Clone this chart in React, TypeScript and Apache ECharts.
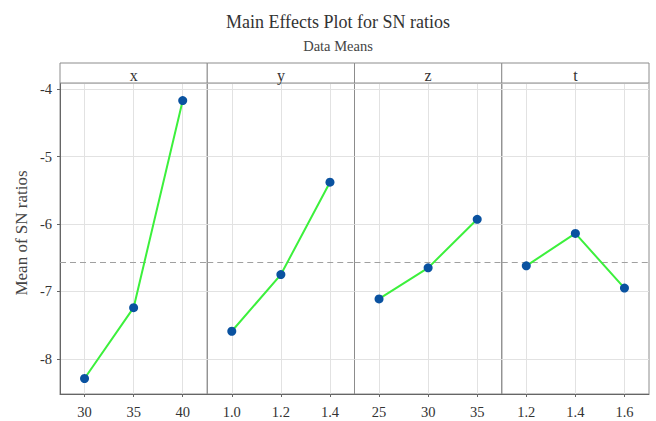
import React, { useEffect, useRef } from "react";
import * as echarts from "echarts";

const titleText = "Main Effects Plot for SN ratios";
const subtitleText = "Data Means";
const yAxisName = "Mean of SN ratios";
const factorNames = ["x", "y", "z", "t"];
const xLevels = ["30", "35", "40"];
const yLevels = ["1.0", "1.2", "1.4"];
const zLevels = ["25", "30", "35"];
const tLevels = ["1.2", "1.4", "1.6"];
const xMeans = [-8.29, -7.24, -4.17];
const yMeans = [-7.59, -6.75, -5.38];
const zMeans = [-7.11, -6.65, -5.93];
const tMeans = [-6.62, -6.14, -6.95];
const grandMean = -6.57;
const yMin = -8.52;
const yMax = -3.91;

const FONT = "'Liberation Serif', 'Times New Roman', serif";

export default function App() {
  const ref = useRef<HTMLDivElement>(null);
  useEffect(() => {
    document.body.style.margin = "0";
    if (!ref.current) return;
    const chart = echarts.init(ref.current, undefined, { renderer: "svg" });
    const levels = [xLevels, yLevels, zLevels, tLevels];
    const means = [xMeans, yMeans, zMeans, tMeans];
    const plotLeft = 60;
    const plotRight = 649;
    const plotTop = 83;
    const plotBottom = 394;
    const stripTop = 63;
    const pw = (plotRight - plotLeft) / 4;

    const grids: any[] = [];
    const xAxes: any[] = [];
    const yAxes: any[] = [];
    const series: any[] = [];
    const graphics: any[] = [];

    for (let i = 0; i < 4; i++) {
      const left = plotLeft + i * pw;
      grids.push({
        left,
        width: pw,
        top: plotTop,
        height: plotBottom - plotTop,
        show: true,
        borderColor: "#8c8c8c",
        borderWidth: 1,
        backgroundColor: "transparent",
      });
      xAxes.push({
        type: "category",
        gridIndex: i,
        data: levels[i],
        boundaryGap: true,
        axisLine: { show: true, lineStyle: { color: "#666", width: 1 } },
        axisTick: { show: true, alignWithLabel: true, length: 3, lineStyle: { color: "#666" } },
        axisLabel: { color: "#333", fontFamily: FONT, fontSize: 14.5, margin: 10 },
        splitLine: { show: true, alignWithLabel: true, lineStyle: { color: "#e2e2e2", width: 1 } },
      });
      yAxes.push({
        type: "value",
        gridIndex: i,
        min: yMin,
        max: yMax,
        splitNumber: 5,
        axisLine: { show: i === 0, lineStyle: { color: "#666", width: 1 } },
        axisTick: { show: i === 0, length: 3, lineStyle: { color: "#666" } },
        axisLabel: {
          show: i === 0,
          color: "#333",
          fontFamily: FONT,
          fontSize: 14.5,
          margin: 8,
          showMinLabel: false,
          showMaxLabel: false,
        },
        splitLine: { show: true, lineStyle: { color: "#e2e2e2", width: 1 } },
      });
      series.push({
        type: "line",
        xAxisIndex: i,
        yAxisIndex: i,
        data: means[i],
        symbol: "circle",
        symbolSize: 9,
        itemStyle: { color: "#0a52a0" },
        lineStyle: { color: "#3cf03c", width: 2 },
        z: 3,
        markLine: {
          silent: true,
          symbol: ["none", "none"],
          label: { show: false },
          lineStyle: { color: "#a0a0a0", type: [6, 4], width: 1 },
          data: [{ yAxis: grandMean }],
          z: 1,
        },
      });
      graphics.push({
        type: "rect",
        shape: { x: left, y: stripTop, width: pw, height: plotTop - stripTop },
        style: { fill: "#fff", stroke: "#8c8c8c", lineWidth: 1 },
        z: 10,
      });
      graphics.push({
        type: "text",
        x: left + pw / 2,
        y: 75,
        style: {
          text: factorNames[i],
          fill: "#333",
          font: `16px ${FONT}`,
          textAlign: "center",
          textVerticalAlign: "middle",
        },
        z: 11,
      });
    }

    graphics.push({
      type: "text",
      x: 21,
      y: 233,
      rotation: Math.PI / 2,
      style: {
        text: yAxisName,
        fill: "#444",
        font: `17px ${FONT}`,
        textAlign: "center",
        textVerticalAlign: "middle",
      },
      z: 11,
    });

    chart.setOption({
      animation: false,
      backgroundColor: "#fff",
      title: [
        {
          text: titleText,
          left: 333,
          textAlign: "center",
          top: 8,
          textStyle: { color: "#333", fontFamily: FONT, fontSize: 18, fontWeight: "normal" },
        },
        {
          text: subtitleText,
          left: 333,
          textAlign: "center",
          top: 33,
          textStyle: { color: "#444", fontFamily: FONT, fontSize: 14.5, fontWeight: "normal" },
        },
      ],
      grid: grids,
      xAxis: xAxes,
      yAxis: yAxes,
      series,
      graphic: graphics,
    });
    return () => chart.dispose();
  }, []);
  return <div ref={ref} style={{ width: 656, height: 421 }} />;
}
